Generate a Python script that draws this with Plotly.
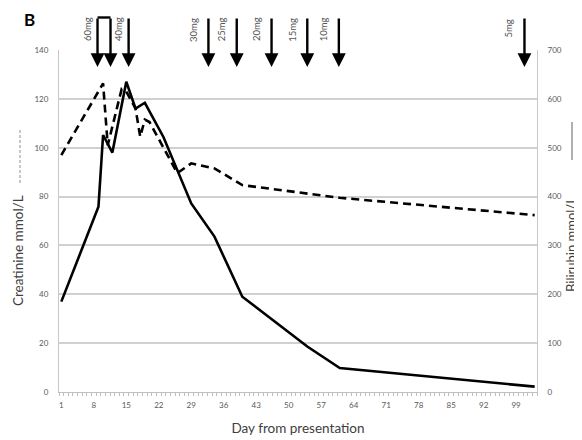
import plotly.graph_objects as go

# ---- data ----
days_bilirubin = [1, 9, 10, 12, 15, 17, 19, 23, 29, 34, 40, 54, 61, 103]
bilirubin = [185, 379, 526, 490, 635, 580, 592, 522, 386, 318, 195, 93, 49, 11]

days_creatinine = [1, 10, 11, 14, 15, 17, 18, 19, 20, 26, 29, 34, 40, 61, 103]
creatinine = [97, 126.3, 101, 124, 123, 116, 104.5, 111.5, 110.5, 89.6, 93.6, 91.5, 84.7, 79.5, 72.4]

x_ticks = [1, 8, 15, 22, 29, 36, 43, 50, 57, 64, 71, 78, 85, 92, 99]

dose_days = [8.8, 11.6, 15.5, 32.7, 38.8, 46.3, 54.0, 60.8, 100.8]
dose_labels = ["60mg", "", "40mg", "30mg", "25mg", "20mg", "15mg", "10mg", "5mg"]

FONT = "Lato, 'Open Sans', sans-serif"
GRID = "#d0d0d0"

fig = go.Figure()
fig.add_trace(go.Scatter(
    x=days_creatinine, y=creatinine, mode="lines", name="Creatinine",
    line=dict(color="black", width=2.6, dash="8px,5px"), yaxis="y"))
fig.add_trace(go.Scatter(
    x=days_bilirubin, y=bilirubin, mode="lines", name="Bilirubin",
    line=dict(color="black", width=2.6), yaxis="y2"))

# page offset (browser body margin) and plot-area geometry in figure px
OFF = 8
W, H = 582 - OFF, 440 - OFF
L, R, T, B = 51, 45, 42, 48
PW, PH = W - L - R, H - T - B
def py(y_win):
    return (H - B - (y_win - OFF)) / PH
def px(x_win):
    return (x_win - OFF - L) / PW

annotations = []
shapes = []
tip_y = py(67)
for d, lab in zip(dose_days, dose_labels):
    annotations.append(dict(
        x=d, xref="x", y=tip_y, yref="paper", text="", showarrow=True,
        ax=0, ay=-50, arrowhead=2, arrowsize=1.15, arrowwidth=2.4,
        arrowcolor="black", standoff=0))
    if lab:
        shift = -10 if d < 20 else -15
        yc = 28 if len(lab) == 3 else 29.5
        annotations.append(dict(
            x=d, xref="x", y=py(yc), yref="paper", text=lab, showarrow=False,
            textangle=-90, xshift=shift, xanchor="center", yanchor="middle",
            font=dict(family=FONT, size=9.5, color="#555555")))

# bracket joining the two 60mg arrows
shapes.append(dict(type="line", xref="x", yref="paper",
                   x0=dose_days[0], x1=dose_days[1], y0=py(17.5), y1=py(17.5),
                   line=dict(color="black", width=2.4)))

# axis titles with their line-style keys
annotations.append(dict(x=px(18), y=py(251), xref="paper", yref="paper",
                        xanchor="center", yanchor="middle",
                        text="Creatinine mmol/L", showarrow=False, textangle=-90,
                        font=dict(family=FONT, size=13.5, color="#404040")))
shapes.append(dict(type="line", xref="paper", yref="paper",
                   x0=px(20), x1=px(20), y0=py(183), y1=py(130),
                   line=dict(color="#909090", width=1, dash="3px,2px")))
annotations.append(dict(x=px(571), y=py(245), xref="paper", yref="paper",
                        xanchor="center", yanchor="middle",
                        text="Bilirubin mmol/L", showarrow=False, textangle=-90,
                        font=dict(family=FONT, size=13, color="#404040")))
shapes.append(dict(type="line", xref="paper", yref="paper",
                   x0=px(572), x1=px(572), y0=py(160), y1=py(122),
                   line=dict(color="#b0b0b0", width=2)))
# panel letter
annotations.append(dict(x=px(29), y=py(20), xref="paper", yref="paper",
                        xanchor="center", yanchor="middle",
                        text="<b>B</b>", showarrow=False,
                        font=dict(family=FONT, size=17, color="black")))

fig.update_layout(
    width=W, height=H, margin=dict(l=L, r=R, t=T, b=B, pad=0, autoexpand=False),
    paper_bgcolor="white", plot_bgcolor="white", showlegend=False,
    font=dict(family=FONT, color="#595959"),
    xaxis=dict(range=[0.5, 103.5], tickmode="array", tickvals=x_ticks,
               showgrid=False, zeroline=False, showline=True, linecolor="#c0c0c0",
               linewidth=1, ticks="", ticklabelstandoff=5,
               minor=dict(ticks="outside", tick0=0.5, dtick=1, ticklen=3,
                          tickcolor="#c0c0c0"),
               tickfont=dict(size=8, color="#595959"),
               title=dict(text="Day from presentation", standoff=14,
                          font=dict(family=FONT, size=13.5, color="#404040"))),
    yaxis=dict(range=[0, 140], tickmode="linear", tick0=0, dtick=20,
               showgrid=True, gridcolor=GRID, gridwidth=2, layer="below traces",
               zeroline=False, showline=True, linecolor="#c8c8c8",
               ticks="", ticklabelstandoff=8, tickfont=dict(size=8, color="#595959")),
    yaxis2=dict(range=[0, 700], tickmode="linear", tick0=0, dtick=100,
                overlaying="y", side="right", showgrid=False,
                zeroline=False, showline=True, linecolor="#c8c8c8",
                ticks="", ticklabelstandoff=8, tickfont=dict(size=8, color="#595959")),
    annotations=annotations, shapes=shapes,
)

fig.write_html("out.html")
